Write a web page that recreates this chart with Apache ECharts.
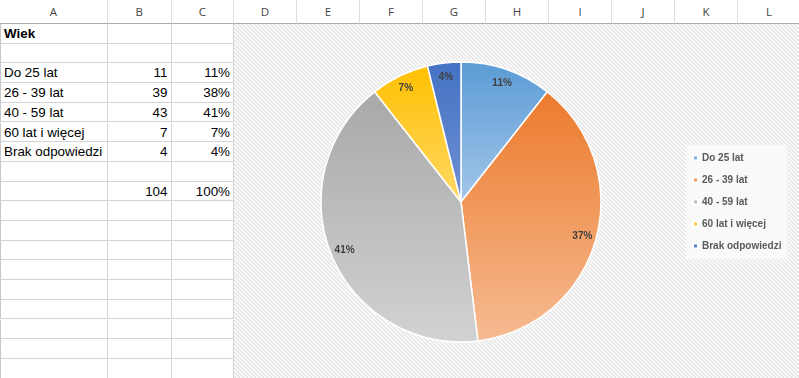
<!DOCTYPE html>
<html>
<head>
<meta charset="utf-8">
<script src="https://cdn.jsdelivr.net/npm/echarts@6/dist/echarts.min.js"></script>
<style>
  html, body { margin: 0; padding: 0; background: #fff; }
  #sheet { position: absolute; left: 0; top: 0; width: 799px; height: 378px; overflow: hidden;
    font-family: "Liberation Sans", Arial, sans-serif; font-size: 13.4px; color: #000; }
  .hd { position: absolute; top: 0; height: 24px; line-height: 24px; text-align: center;
    color: #444; font-family: "Open Sans", sans-serif; font-size: 11.5px;
    border-right: 1px solid #e0e0e0; box-sizing: border-box; border-bottom: 1px solid #ababab; }
  .cell { position: absolute; height: 19.7px; line-height: 20px; box-sizing: border-box;
    border-right: 1px solid #d4d4d4; border-bottom: 1px solid #d4d4d4; padding: 0 3px;
    white-space: nowrap; overflow: visible; }
  .num { text-align: right; }
  #chart { position: absolute; left: 234px; top: 24px; width: 565px; height: 354px; }
</style>
</head>
<body>
<div id="sheet"></div>
<div id="chart"></div>
<script>
// dane z arkusza
const title = 'Wiek'
const categories = ['Do 25 lat', '26 - 39 lat', '40 - 59 lat', '60 lat i więcej', 'Brak odpowiedzi']
const counts = [11, 39, 43, 7, 4]
const shares = ['11%', '38%', '41%', '7%', '4%']
const total = 104
const totalShare = '100%'
const columns = ['A', 'B', 'C', 'D', 'E', 'F', 'G', 'H', 'I', 'J', 'K', 'L']

// arkusz (tlo)
const sheet = document.getElementById('sheet')
const colLeft = [0, 108, 171.5]
for (let i = 3; i <= 12; i++) colLeft.push(234 + (i - 3) * 63)
const rowTop = (r) => 24 + r * 19.7

columns.forEach((c, i) => {
  const d = document.createElement('div')
  d.className = 'hd'
  d.style.left = colLeft[i] + 'px'
  d.style.width = (colLeft[i + 1] - colLeft[i]) + 'px'
  d.textContent = c
  sheet.appendChild(d)
})

const rows = [[title, '', ''], ['', '', '']]
categories.forEach((c, i) => rows.push([c, String(counts[i]), shares[i]]))
rows.push(['', '', ''])
rows.push(['', String(total), totalShare])
while (rows.length < 18) rows.push(['', '', ''])

rows.forEach((row, r) => {
  row.forEach((txt, c) => {
    const d = document.createElement('div')
    d.className = 'cell' + (c > 0 ? ' num' : '')
    d.style.left = colLeft[c] + 'px'
    d.style.top = rowTop(r) + 'px'
    d.style.width = (colLeft[c + 1] - colLeft[c]) + 'px'
    if (c === 0) d.style.borderLeft = '1px solid #c8c8c8'
    if (r === 0 && c === 0) d.style.fontWeight = 'bold'
    d.textContent = txt
    sheet.appendChild(d)
  })
})

// tlo wykresu w paski
const pat = document.createElement('canvas')
pat.width = 4
pat.height = 4
const ctx = pat.getContext('2d')
ctx.fillStyle = '#f7f7f7'
ctx.fillRect(0, 0, 4, 4)
ctx.fillStyle = '#dedede'
for (let k = 0; k < 4; k++) ctx.fillRect(k, k, 1, 1)

const baseColors = [
  ['#5b9bd5', '#a3c6e9'],
  ['#ec7a2c', '#f6bb92'],
  ['#a8a8a8', '#d2d2d2'],
  ['#ffc000', '#ffd866'],
  ['#4472c4', '#6f90d2']
]
const grad = (c) => new echarts.graphic.LinearGradient(0, 0, 0, 1, [
  { offset: 0, color: c[0] }, { offset: 1, color: c[1] }
])

const pieData = categories.map((name, i) => ({
  name: name,
  value: counts[i],
  itemStyle: { color: grad(baseColors[i]) }
}))

const chart = echarts.init(document.getElementById('chart'))
chart.setOption({
  animation: false,
  backgroundColor: { image: pat, repeat: 'repeat' },
  legend: {
    data: categories,
    orient: 'vertical',
    left: 452,
    top: 121,
    padding: [7, 6, 7, 6],
    backgroundColor: 'rgba(250,250,250,0.9)',
    icon: 'rect',
    itemWidth: 5,
    itemHeight: 5,
    itemGap: 10,
    textStyle: {
      fontFamily: 'Liberation Sans',
      fontSize: 10,
      fontWeight: 'bold',
      color: '#595959',
      lineHeight: 12,
      padding: [0, 0, 0, -1]
    }
  },
  series: [
    {
      type: 'pie',
      center: [227, 178],
      radius: [0, 140],
      startAngle: 90,
      clockwise: true,
      percentPrecision: 0,
      itemStyle: { borderColor: '#ffffff', borderWidth: 1.5 },
      label: { show: false },
      labelLine: { show: false },
      emphasis: { disabled: true },
      data: pieData
    },
    {
      // warstwa tylko z etykietami
      type: 'pie',
      silent: true,
      center: [227, 178],
      radius: [106, 140],
      startAngle: 90,
      clockwise: true,
      percentPrecision: 0,
      itemStyle: { color: 'rgba(0,0,0,0)', borderWidth: 0 },
      label: {
        show: true,
        position: 'inside',
        formatter: '{d}%',
        fontFamily: 'Liberation Sans',
        fontSize: 10,
        fontWeight: 'bold',
        color: '#404040'
      },
      labelLine: { show: false },
      emphasis: { disabled: true },
      data: categories.map((name, i) => ({ name: name, value: counts[i] }))
    }
  ]
})
</script>
</body>
</html>
